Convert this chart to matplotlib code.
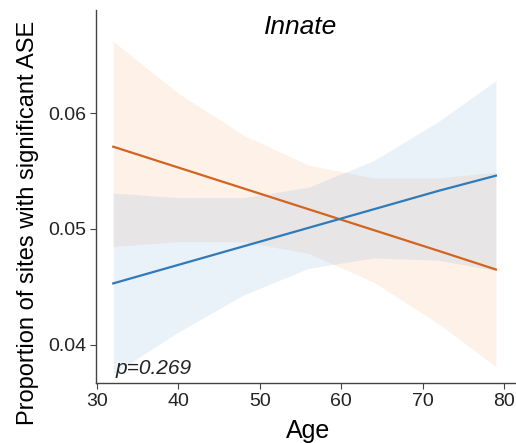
import matplotlib.pyplot as plt

plt.rcParams['font.family'] = ['Liberation Sans', 'DejaVu Sans']

# fitted lines (age vs proportion) and their confidence bands
age = [32, 40, 48, 56, 64, 72, 79]
orange_fit = [0.0571, 0.0553, 0.0535, 0.0517, 0.0499, 0.0481, 0.0465]
orange_lo = [0.0485, 0.0489, 0.0489, 0.0479, 0.0454, 0.0418, 0.0381]
orange_hi = [0.0662, 0.0617, 0.0581, 0.0555, 0.0544, 0.0544, 0.0549]
blue_fit = [0.0453, 0.0469, 0.0485, 0.0501, 0.0517, 0.0533, 0.0546]
blue_lo = [0.0375, 0.0411, 0.0443, 0.0466, 0.0475, 0.0473, 0.0464]
blue_hi = [0.0531, 0.0527, 0.0527, 0.0536, 0.0559, 0.0593, 0.0628]

orange = '#d3641f'
blue = '#2f7ab9'

fig = plt.figure(figsize=(5.16, 4.43), dpi=100)
ax = fig.add_axes([0.186, 0.1354, 0.814, 0.842])

ax.fill_between(age, orange_lo, orange_hi, color='#f4a468', alpha=0.15, lw=0)
ax.fill_between(age, blue_lo, blue_hi, color='#6fa3d8', alpha=0.15, lw=0)
ax.plot(age, orange_fit, color=orange, lw=1.6)
ax.plot(age, blue_fit, color=blue, lw=1.6)

ax.set_xlim(29.88, 81.47)
ax.set_ylim(0.0367, 0.0689)
ax.set_xticks([30, 40, 50, 60, 70, 80])
ax.set_yticks([0.04, 0.05, 0.06])
ax.set_yticklabels(['0.04', '0.05', '0.06'])

for s in ['top', 'right']:
    ax.spines[s].set_visible(False)
for s in ['left', 'bottom']:
    ax.spines[s].set_color('#444444')
    ax.spines[s].set_linewidth(1.0)
ax.tick_params(labelsize=14, colors='#444444', length=4, labelcolor='#222222', pad=3)

ax.set_xlabel('Age', fontsize=18, va='center')
ax.xaxis.set_label_coords(0.505, -0.128)
ax.set_ylabel('Proportion of sites with significant ASE', fontsize=17, va='center')
ax.yaxis.set_label_coords(-0.162, 0.43)
ax.text(0.487, 0.955, 'Innate', fontsize=19, style='italic', ha='center', va='center',
        transform=ax.transAxes)
ax.text(32.3, 0.0375, 'p=0.269', fontsize=15, style='italic', color='#222222')

plt.savefig('out.png', dpi=100)
